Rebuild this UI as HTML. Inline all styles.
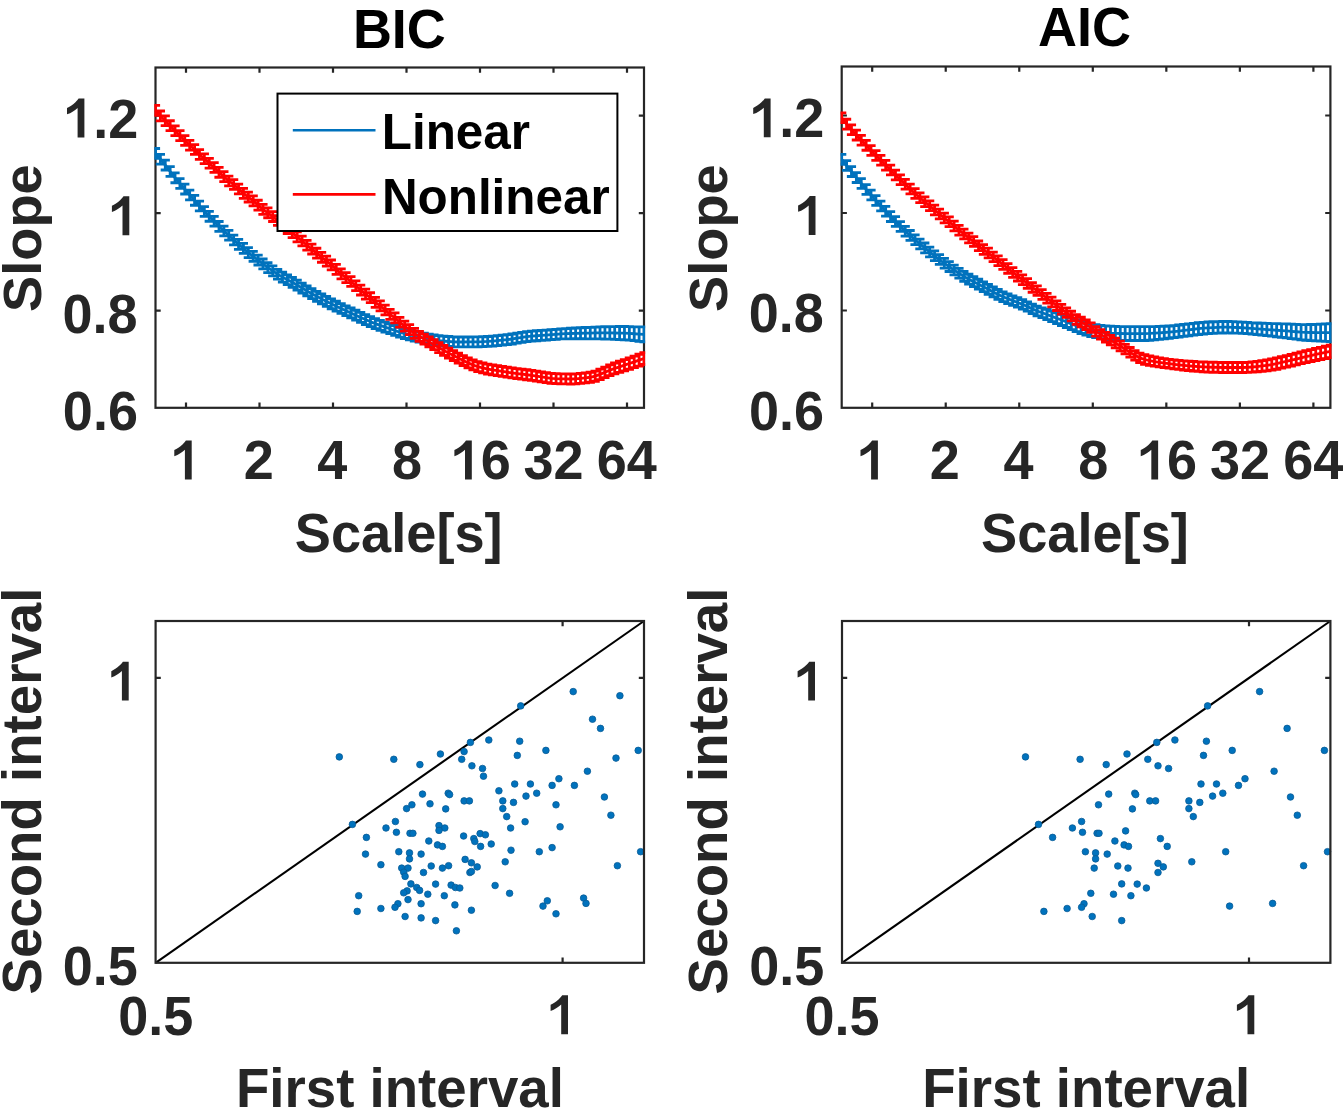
<!DOCTYPE html>
<html><head><meta charset="utf-8"><style>
html,body{margin:0;padding:0;background:#fff;}
svg{display:block;}
text{font-family:"Liberation Sans",sans-serif;font-weight:bold;}
</style></head><body>
<svg width="1344" height="1113" viewBox="0 0 1344 1113">
<rect width="1344" height="1113" fill="#fff"/>
<defs>
<clipPath id="cA"><rect x="154.3" y="66.3" width="490.9" height="342.7"/></clipPath>
<clipPath id="cB"><rect x="840.5" y="65.3" width="491.1" height="343.7"/></clipPath>
<clipPath id="cC"><rect x="154.4" y="619.8" width="490.79999999999995" height="344.19999999999993"/></clipPath>
<clipPath id="cD"><rect x="840.8" y="619.8" width="490.80000000000007" height="344.19999999999993"/></clipPath>
</defs>
<rect x="155.5" y="67.5" width="488.50" height="340.30" fill="none" stroke="#262626" stroke-width="2.2"/>
<path d="M186.00 407.8v-5.2M186.00 67.5v5.2M259.50 407.8v-5.2M259.50 67.5v5.2M333.00 407.8v-5.2M333.00 67.5v5.2M406.50 407.8v-5.2M406.50 67.5v5.2M480.00 407.8v-5.2M480.00 67.5v5.2M553.50 407.8v-5.2M553.50 67.5v5.2M627.00 407.8v-5.2M627.00 67.5v5.2M155.5 310.70h5.2M644 310.70h-5.2M155.5 213.20h5.2M644 213.20h-5.2M155.5 115.70h5.2M644 115.70h-5.2" stroke="#262626" stroke-width="2.2" fill="none"/>
<g clip-path="url(#cA)" stroke="#0072BD" stroke-width="2.8" fill="none"><path d="M155.50 153.42 L160.38 159.21 L165.27 165.12 L170.16 171.50 L175.04 177.83 L179.93 183.52 L184.81 189.10 L189.69 194.95 L194.58 200.32 L199.47 206.05 L204.35 211.47 L209.24 216.33 L214.12 221.23 L219.00 226.41 L223.89 231.05 L228.77 235.26 L233.66 240.04 L238.55 244.39 L243.43 248.37 L248.31 252.61 L253.20 256.31 L258.08 260.08 L262.97 263.95 L267.86 267.69 L272.74 270.90 L277.62 274.23 L282.51 277.13 L287.39 279.73 L292.28 282.33 L297.16 285.14 L302.05 288.04 L306.94 290.91 L311.82 293.66 L316.70 296.30 L321.59 298.88 L326.48 301.39 L331.36 303.82 L336.25 306.18 L341.13 308.48 L346.01 310.73 L350.90 312.95 L355.78 315.19 L360.67 317.41 L365.55 319.59 L370.44 321.68 L375.32 323.64 L380.21 325.43 L385.10 327.08 L389.98 328.71 L394.87 330.45 L399.75 332.20 L404.63 333.55 L409.52 334.83 L414.40 336.04 L419.29 337.18 L424.18 338.22 L429.06 339.15 L433.94 339.94 L438.83 340.59 L443.71 341.07 L448.60 341.48 L453.49 341.82 L458.37 341.99 L463.25 341.99 L468.14 341.96 L473.02 341.91 L477.91 341.83 L482.79 341.72 L487.68 341.47 L492.56 341.11 L497.45 340.66 L502.33 340.18 L507.22 339.67 L512.11 338.99 L516.99 338.21 L521.88 337.41 L526.76 336.70 L531.64 336.16 L536.53 335.74 L541.41 335.37 L546.30 335.03 L551.18 334.70 L556.07 334.34 L560.95 333.94 L565.84 333.69 L570.72 333.51 L575.61 333.37 L580.50 333.25 L585.38 333.15 L590.26 333.05 L595.15 332.96 L600.03 332.91 L604.92 332.90 L609.81 332.93 L614.69 332.98 L619.58 333.05 L624.46 333.17 L629.35 333.43 L634.23 333.73 L639.12 334.04 L644.00 334.34"/><path d="M155.50 148.52V158.33M150.90 148.52H160.10M150.90 158.33H160.10M160.38 154.31V164.12M155.78 154.31H164.98M155.78 164.12H164.98M165.27 160.21V170.02M160.67 160.21H169.87M160.67 170.02H169.87M170.16 166.59V176.40M165.56 166.59H174.75M165.56 176.40H174.75M175.04 172.92V182.73M170.44 172.92H179.64M170.44 182.73H179.64M179.93 178.61V188.43M175.33 178.61H184.53M175.33 188.43H184.53M184.81 184.19V194.01M180.21 184.19H189.41M180.21 194.01H189.41M189.69 190.04V199.86M185.09 190.04H194.29M185.09 199.86H194.29M194.58 195.41V205.23M189.98 195.41H199.18M189.98 205.23H199.18M199.47 201.14V210.96M194.87 201.14H204.06M194.87 210.96H204.06M204.35 206.56V216.38M199.75 206.56H208.95M199.75 216.38H208.95M209.24 211.42V221.25M204.64 211.42H213.84M204.64 221.25H213.84M214.12 216.31V226.14M209.52 216.31H218.72M209.52 226.14H218.72M219.00 221.49V231.32M214.41 221.49H223.60M214.41 231.32H223.60M223.89 226.13V235.97M219.29 226.13H228.49M219.29 235.97H228.49M228.77 230.34V240.18M224.17 230.34H233.37M224.17 240.18H233.37M233.66 235.12V244.96M229.06 235.12H238.26M229.06 244.96H238.26M238.55 239.47V249.31M233.95 239.47H243.15M233.95 249.31H243.15M243.43 243.44V253.29M238.83 243.44H248.03M238.83 253.29H248.03M248.31 247.69V257.54M243.72 247.69H252.91M243.72 257.54H252.91M253.20 251.38V261.23M248.60 251.38H257.80M248.60 261.23H257.80M258.08 255.15V265.01M253.48 255.15H262.69M253.48 265.01H262.69M262.97 259.02V268.88M258.37 259.02H267.57M258.37 268.88H267.57M267.86 262.76V272.62M263.25 262.76H272.46M263.25 272.62H272.46M272.74 265.97V275.83M268.14 265.97H277.34M268.14 275.83H277.34M277.62 269.30V279.17M273.02 269.30H282.23M273.02 279.17H282.23M282.51 272.20V282.06M277.91 272.20H287.11M277.91 282.06H287.11M287.39 274.79V284.66M282.79 274.79H292.00M282.79 284.66H292.00M292.28 277.40V287.27M287.68 277.40H296.88M287.68 287.27H296.88M297.16 280.21V290.08M292.56 280.21H301.76M292.56 290.08H301.76M302.05 283.10V292.98M297.45 283.10H306.65M297.45 292.98H306.65M306.94 285.98V295.85M302.33 285.98H311.54M302.33 295.85H311.54M311.82 288.72V298.60M307.22 288.72H316.42M307.22 298.60H316.42M316.70 291.36V301.24M312.10 291.36H321.31M312.10 301.24H321.31M321.59 293.94V303.82M316.99 293.94H326.19M316.99 303.82H326.19M326.48 296.44V306.33M321.88 296.44H331.08M321.88 306.33H331.08M331.36 298.88V308.77M326.76 298.88H335.96M326.76 308.77H335.96M336.25 301.24V311.13M331.64 301.24H340.85M331.64 311.13H340.85M341.13 303.54V313.43M336.53 303.54H345.73M336.53 313.43H345.73M346.01 305.78V315.68M341.41 305.78H350.62M341.41 315.68H350.62M350.90 308.01V317.90M346.30 308.01H355.50M346.30 317.90H355.50M355.78 310.24V320.14M351.18 310.24H360.38M351.18 320.14H360.38M360.67 312.46V322.36M356.07 312.46H365.27M356.07 322.36H365.27M365.55 314.64V324.54M360.95 314.64H370.15M360.95 324.54H370.15M370.44 316.72V326.63M365.84 316.72H375.04M365.84 326.63H375.04M375.32 318.69V328.60M370.72 318.69H379.93M370.72 328.60H379.93M380.21 320.47V330.39M375.61 320.47H384.81M375.61 330.39H384.81M385.10 322.12V332.04M380.50 322.12H389.70M380.50 332.04H389.70M389.98 323.75V333.67M385.38 323.75H394.58M385.38 333.67H394.58M394.87 325.49V335.41M390.26 325.49H399.47M390.26 335.41H399.47M399.75 327.24V337.16M395.15 327.24H404.35M395.15 337.16H404.35M404.63 328.59V338.51M400.03 328.59H409.24M400.03 338.51H409.24M409.52 329.86V339.79M404.92 329.86H414.12M404.92 339.79H414.12M414.40 331.08V341.01M409.80 331.08H419.00M409.80 341.01H419.00M419.29 332.22V342.15M414.69 332.22H423.89M414.69 342.15H423.89M424.18 333.26V343.19M419.57 333.26H428.78M419.57 343.19H428.78M429.06 334.18V344.12M424.46 334.18H433.66M424.46 344.12H433.66M433.94 334.98V344.91M429.34 334.98H438.55M429.34 344.91H438.55M438.83 335.62V345.56M434.23 335.62H443.43M434.23 345.56H443.43M443.71 336.10V346.04M439.11 336.10H448.31M439.11 346.04H448.31M448.60 336.51V346.45M444.00 336.51H453.20M444.00 346.45H453.20M453.49 336.84V346.79M448.88 336.84H458.09M448.88 346.79H458.09M458.37 337.02V346.97M453.77 337.02H462.97M453.77 346.97H462.97M463.25 337.02V346.97M458.65 337.02H467.86M458.65 346.97H467.86M468.14 336.98V346.94M463.54 336.98H472.74M463.54 346.94H472.74M473.02 336.93V346.88M468.42 336.93H477.62M468.42 346.88H477.62M477.91 336.85V346.81M473.31 336.85H482.51M473.31 346.81H482.51M482.79 336.74V346.71M478.19 336.74H487.39M478.19 346.71H487.39M487.68 336.49V346.46M483.08 336.49H492.28M483.08 346.46H492.28M492.56 336.12V346.09M487.96 336.12H497.17M487.96 346.09H497.17M497.45 335.68V345.65M492.85 335.68H502.05M492.85 345.65H502.05M502.33 335.19V345.16M497.73 335.19H506.94M497.73 345.16H506.94M507.22 334.68V344.65M502.62 334.68H511.82M502.62 344.65H511.82M512.11 334.01V343.98M507.50 334.01H516.71M507.50 343.98H516.71M516.99 333.22V343.20M512.39 333.22H521.59M512.39 343.20H521.59M521.88 332.42V342.40M517.27 332.42H526.48M517.27 342.40H526.48M526.76 331.71V341.69M522.16 331.71H531.36M522.16 341.69H531.36M531.64 331.17V341.15M527.04 331.17H536.25M527.04 341.15H536.25M536.53 330.74V340.73M531.93 330.74H541.13M531.93 340.73H541.13M541.41 330.37V340.37M536.81 330.37H546.01M536.81 340.37H546.01M546.30 330.03V340.03M541.70 330.03H550.90M541.70 340.03H550.90M551.18 329.70V339.69M546.58 329.70H555.78M546.58 339.69H555.78M556.07 329.34V339.34M551.47 329.34H560.67M551.47 339.34H560.67M560.95 328.92V338.97M556.35 328.92H565.55M556.35 338.97H565.55M565.84 328.54V338.84M561.24 328.54H570.44M561.24 338.84H570.44M570.72 328.24V338.78M566.12 328.24H575.32M566.12 338.78H575.32M575.61 327.98V338.76M571.01 327.98H580.21M571.01 338.76H580.21M580.50 327.74V338.77M575.89 327.74H585.10M575.89 338.77H585.10M585.38 327.52V338.78M580.78 327.52H589.98M580.78 338.78H589.98M590.26 327.29V338.80M585.66 327.29H594.87M585.66 338.80H594.87M595.15 327.08V338.84M590.55 327.08H599.75M590.55 338.84H599.75M600.03 326.91V338.91M595.43 326.91H604.63M595.43 338.91H604.63M604.92 326.76V339.05M600.32 326.76H609.52M600.32 339.05H609.52M609.81 326.64V339.22M605.21 326.64H614.41M605.21 339.22H614.41M614.69 326.54V339.42M610.09 326.54H619.29M610.09 339.42H619.29M619.58 326.47V339.64M614.98 326.47H624.18M614.98 339.64H624.18M624.46 326.49V339.84M619.86 326.49H629.06M619.86 339.84H629.06M629.35 326.68V340.19M624.75 326.68H633.95M624.75 340.19H633.95M634.23 326.79V340.66M629.63 326.79H638.83M629.63 340.66H638.83M639.12 326.81V341.28M634.51 326.81H643.72M634.51 341.28H643.72M644.00 326.80V341.88M639.40 326.80H648.60M639.40 341.88H648.60"/></g>
<g clip-path="url(#cA)" stroke="#FF0000" stroke-width="2.8" fill="none"><path d="M155.50 110.34 L160.38 115.91 L165.27 120.77 L170.16 125.66 L175.04 130.75 L179.93 135.63 L184.81 140.51 L189.69 145.26 L194.58 149.47 L199.47 154.45 L204.35 158.72 L209.24 163.21 L214.12 167.50 L219.00 172.36 L223.89 176.62 L228.77 180.96 L233.66 184.45 L238.55 189.00 L243.43 193.37 L248.31 197.07 L253.20 200.88 L258.08 205.16 L262.97 209.38 L267.86 212.84 L272.74 216.59 L277.62 220.47 L282.51 224.47 L287.39 228.55 L292.28 232.69 L297.16 236.86 L302.05 241.03 L306.94 245.25 L311.82 249.06 L316.70 253.17 L321.59 257.30 L326.48 261.09 L331.36 264.92 L336.25 269.34 L341.13 273.88 L346.01 277.67 L350.90 281.48 L355.78 285.76 L360.67 290.03 L365.55 294.12 L370.44 297.68 L375.32 302.36 L380.21 305.86 L385.10 309.98 L389.98 314.38 L394.87 317.90 L399.75 322.24 L404.63 326.10 L409.52 329.62 L414.40 333.37 L419.29 336.35 L424.18 339.06 L429.06 341.86 L433.94 344.72 L438.83 347.58 L443.71 350.36 L448.60 353.01 L453.49 355.51 L458.37 358.04 L463.25 360.54 L468.14 362.90 L473.02 365.00 L477.91 366.71 L482.79 367.99 L487.68 369.03 L492.56 369.93 L497.45 370.73 L502.33 371.48 L507.22 372.22 L512.11 372.90 L516.99 373.53 L521.88 374.14 L526.76 374.75 L531.64 375.40 L536.53 376.17 L541.41 376.98 L546.30 377.73 L551.18 378.32 L556.07 378.63 L560.95 378.80 L565.84 378.93 L570.72 379.00 L575.61 378.85 L580.50 378.36 L585.38 377.81 L590.26 377.25 L595.15 376.16 L600.03 374.40 L604.92 372.30 L609.81 370.22 L614.69 368.44 L619.58 366.81 L624.46 365.17 L629.35 363.54 L634.23 361.86 L639.12 360.15 L644.00 358.52"/><path d="M155.50 105.44V115.25M150.90 105.44H160.10M150.90 115.25H160.10M160.38 111.01V120.82M155.78 111.01H164.98M155.78 120.82H164.98M165.27 115.87V125.67M160.67 115.87H169.87M160.67 125.67H169.87M170.16 120.76V130.57M165.56 120.76H174.75M165.56 130.57H174.75M175.04 125.84V135.65M170.44 125.84H179.64M170.44 135.65H179.64M179.93 130.72V140.53M175.33 130.72H184.53M175.33 140.53H184.53M184.81 135.60V145.41M180.21 135.60H189.41M180.21 145.41H189.41M189.69 140.35V150.17M185.09 140.35H194.29M185.09 150.17H194.29M194.58 144.56V154.38M189.98 144.56H199.18M189.98 154.38H199.18M199.47 149.54V159.36M194.87 149.54H204.06M194.87 159.36H204.06M204.35 153.80V163.63M199.75 153.80H208.95M199.75 163.63H208.95M209.24 158.30V168.12M204.64 158.30H213.84M204.64 168.12H213.84M214.12 162.59V172.42M209.52 162.59H218.72M209.52 172.42H218.72M219.00 167.44V177.27M214.41 167.44H223.60M214.41 177.27H223.60M223.89 171.71V181.54M219.29 171.71H228.49M219.29 181.54H228.49M228.77 176.04V185.88M224.17 176.04H233.37M224.17 185.88H233.37M233.66 179.53V189.36M229.06 179.53H238.26M229.06 189.36H238.26M238.55 184.08V193.92M233.95 184.08H243.15M233.95 193.92H243.15M243.43 188.45V198.29M238.83 188.45H248.03M238.83 198.29H248.03M248.31 192.14V201.99M243.72 192.14H252.91M243.72 201.99H252.91M253.20 195.96V205.81M248.60 195.96H257.80M248.60 205.81H257.80M258.08 200.24V210.09M253.48 200.24H262.69M253.48 210.09H262.69M262.97 204.46V214.31M258.37 204.46H267.57M258.37 214.31H267.57M267.86 207.91V217.77M263.25 207.91H272.46M263.25 217.77H272.46M272.74 211.66V221.51M268.14 211.66H277.34M268.14 221.51H277.34M277.62 215.54V225.40M273.02 215.54H282.23M273.02 225.40H282.23M282.51 219.54V229.40M277.91 219.54H287.11M277.91 229.40H287.11M287.39 223.62V233.48M282.79 223.62H292.00M282.79 233.48H292.00M292.28 227.76V237.62M287.68 227.76H296.88M287.68 237.62H296.88M297.16 231.93V241.79M292.56 231.93H301.76M292.56 241.79H301.76M302.05 236.09V245.96M297.45 236.09H306.65M297.45 245.96H306.65M306.94 240.32V250.19M302.33 240.32H311.54M302.33 250.19H311.54M311.82 244.12V254.00M307.22 244.12H316.42M307.22 254.00H316.42M316.70 248.24V258.11M312.10 248.24H321.31M312.10 258.11H321.31M321.59 252.36V262.23M316.99 252.36H326.19M316.99 262.23H326.19M326.48 256.15V266.03M321.88 256.15H331.08M321.88 266.03H331.08M331.36 259.98V269.86M326.76 259.98H335.96M326.76 269.86H335.96M336.25 264.40V274.28M331.64 264.40H340.85M331.64 274.28H340.85M341.13 268.93V278.82M336.53 268.93H345.73M336.53 278.82H345.73M346.01 272.72V282.61M341.41 272.72H350.62M341.41 282.61H350.62M350.90 276.54V286.43M346.30 276.54H355.50M346.30 286.43H355.50M355.78 280.82V290.71M351.18 280.82H360.38M351.18 290.71H360.38M360.67 285.09V294.98M356.07 285.09H365.27M356.07 294.98H365.27M365.55 289.17V299.07M360.95 289.17H370.15M360.95 299.07H370.15M370.44 292.73V302.63M365.84 292.73H375.04M365.84 302.63H375.04M375.32 297.41V307.31M370.72 297.41H379.93M370.72 307.31H379.93M380.21 300.91V310.82M375.61 300.91H384.81M375.61 310.82H384.81M385.10 305.03V314.94M380.50 305.03H389.70M380.50 314.94H389.70M389.98 309.42V319.33M385.38 309.42H394.58M385.38 319.33H394.58M394.87 312.94V322.85M390.26 312.94H399.47M390.26 322.85H399.47M399.75 317.29V327.20M395.15 317.29H404.35M395.15 327.20H404.35M404.63 321.14V331.06M400.03 321.14H409.24M400.03 331.06H409.24M409.52 324.66V334.58M404.92 324.66H414.12M404.92 334.58H414.12M414.40 328.41V338.34M409.80 328.41H419.00M409.80 338.34H419.00M419.29 331.39V341.31M414.69 331.39H423.89M414.69 341.31H423.89M424.18 334.09V344.02M419.57 334.09H428.78M419.57 344.02H428.78M429.06 336.90V346.82M424.46 336.90H433.66M424.46 346.82H433.66M433.94 339.76V349.69M429.34 339.76H438.55M429.34 349.69H438.55M438.83 342.61V352.54M434.23 342.61H443.43M434.23 352.54H443.43M443.71 345.39V355.33M439.11 345.39H448.31M439.11 355.33H448.31M448.60 348.04V357.98M444.00 348.04H453.20M444.00 357.98H453.20M453.49 350.54V360.48M448.88 350.54H458.09M448.88 360.48H458.09M458.37 353.07V363.01M453.77 353.07H462.97M453.77 363.01H462.97M463.25 355.57V365.52M458.65 355.57H467.86M458.65 365.52H467.86M468.14 357.93V367.88M463.54 357.93H472.74M463.54 367.88H472.74M473.02 360.02V369.97M468.42 360.02H477.62M468.42 369.97H477.62M477.91 361.74V371.69M473.31 361.74H482.51M473.31 371.69H482.51M482.79 363.01V372.96M478.19 363.01H487.39M478.19 372.96H487.39M487.68 364.06V374.01M483.08 364.06H492.28M483.08 374.01H492.28M492.56 364.95V374.91M487.96 364.95H497.17M487.96 374.91H497.17M497.45 365.75V375.71M492.85 365.75H502.05M492.85 375.71H502.05M502.33 366.50V376.46M497.73 366.50H506.94M497.73 376.46H506.94M507.22 367.24V377.20M502.62 367.24H511.82M502.62 377.20H511.82M512.11 367.91V377.88M507.50 367.91H516.71M507.50 377.88H516.71M516.99 368.55V378.51M512.39 368.55H521.59M512.39 378.51H521.59M521.88 369.15V379.12M517.27 369.15H526.48M517.27 379.12H526.48M526.76 369.77V379.74M522.16 369.77H531.36M522.16 379.74H531.36M531.64 370.41V380.39M527.04 370.41H536.25M527.04 380.39H536.25M536.53 371.18V381.15M531.93 371.18H541.13M531.93 381.15H541.13M541.41 371.99V381.97M536.81 371.99H546.01M536.81 381.97H546.01M546.30 372.74V382.72M541.70 372.74H550.90M541.70 382.72H550.90M551.18 373.33V383.31M546.58 373.33H555.78M546.58 383.31H555.78M556.07 373.64V383.62M551.47 373.64H560.67M551.47 383.62H560.67M560.95 373.81V383.80M556.35 373.81H565.55M556.35 383.80H565.55M565.84 373.94V383.93M561.24 373.94H570.44M561.24 383.93H570.44M570.72 374.00V383.99M566.12 374.00H575.32M566.12 383.99H575.32M575.61 373.86V383.85M571.01 373.86H580.21M571.01 383.85H580.21M580.50 373.36V383.35M575.89 373.36H585.10M575.89 383.35H585.10M585.38 372.81V382.81M580.78 372.81H589.98M580.78 382.81H589.98M590.26 372.24V382.25M585.66 372.24H594.87M585.66 382.25H594.87M595.15 371.07V381.25M590.55 371.07H599.75M590.55 381.25H599.75M600.03 369.22V379.58M595.43 369.22H604.63M595.43 379.58H604.63M604.92 367.03V377.58M600.32 367.03H609.52M600.32 377.58H609.52M609.81 364.86V375.58M605.21 364.86H614.41M605.21 375.58H614.41M614.69 362.99V373.89M610.09 362.99H619.29M610.09 373.89H619.29M619.58 361.27V372.35M614.98 361.27H624.18M614.98 372.35H624.18M624.46 359.55V370.80M619.86 359.55H629.06M619.86 370.80H629.06M629.35 357.82V369.25M624.75 357.82H633.95M624.75 369.25H633.95M634.23 356.06V367.67M629.63 356.06H638.83M629.63 367.67H638.83M639.12 354.25V366.04M634.51 354.25H643.72M634.51 366.04H643.72M644.00 352.54V364.50M639.40 352.54H648.60M639.40 364.50H648.60"/></g>
<text x="352.89" y="0" transform="translate(0 47.80) scale(1 1.045)" font-size="54.0" fill="#000">BIC</text>
<text x="62.88" y="0" transform="translate(0 430.00) scale(1 1.02)" font-size="54.0" fill="#262626">0.6</text>
<text x="62.59" y="0" transform="translate(0 332.50) scale(1 1.02)" font-size="54.0" fill="#262626">0.8</text>
<path transform="translate(111.90 235.20)" fill="#262626" d="M10.6 0V-29.6C8.2 -27.2 4.2 -24.6 0 -23.2V-29.4C2.6 -30.5 5.6 -32.6 8.2 -35C9.8 -36.5 11 -37.8 11.6 -38.9H17.4V0Z"/>
<path transform="translate(67.00 137.50)" fill="#262626" d="M10.6 0V-29.6C8.2 -27.2 4.2 -24.6 0 -23.2V-29.4C2.6 -30.5 5.6 -32.6 8.2 -35C9.8 -36.5 11 -37.8 11.6 -38.9H17.4V0Z"/>
<text x="93.13" y="0" transform="translate(0 137.50) scale(1 1.02)" font-size="54.0" fill="#262626">.2</text>
<path transform="translate(174.30 479.40)" fill="#262626" d="M10.6 0V-29.6C8.2 -27.2 4.2 -24.6 0 -23.2V-29.4C2.6 -30.5 5.6 -32.6 8.2 -35C9.8 -36.5 11 -37.8 11.6 -38.9H17.4V0Z"/>
<text x="243.63" y="0" transform="translate(0 479.40) scale(1 1.02)" font-size="54.0" fill="#262626">2</text>
<text x="317.22" y="0" transform="translate(0 479.40) scale(1 1.02)" font-size="54.0" fill="#262626">4</text>
<text x="391.96" y="0" transform="translate(0 479.40) scale(1 1.02)" font-size="54.0" fill="#262626">8</text>
<path transform="translate(454.40 479.40)" fill="#262626" d="M10.6 0V-29.6C8.2 -27.2 4.2 -24.6 0 -23.2V-29.4C2.6 -30.5 5.6 -32.6 8.2 -35C9.8 -36.5 11 -37.8 11.6 -38.9H17.4V0Z"/>
<text x="480.72" y="0" transform="translate(0 479.40) scale(1 1.02)" font-size="54.0" fill="#262626">6</text>
<text x="523.53" y="0" transform="translate(0 479.40) scale(1 1.02)" font-size="54.0" fill="#262626">32</text>
<text x="596.82" y="0" transform="translate(0 479.40) scale(1 1.02)" font-size="54.0" fill="#262626">64</text>
<text x="294.80" y="0" transform="translate(0 551.80) scale(1 1.02)" font-size="54.2" fill="#262626">Scale[s]</text>
<text x="0" y="0" transform="translate(41.20 311.91) rotate(-90) scale(1 1.0)" font-size="54.25" fill="#262626">Slope</text>
<rect x="277.5" y="93.6" width="339.9" height="137.4" fill="#fff" stroke="#000" stroke-width="2"/>
<path d="M292.8 130.3H375.5" stroke="#0072BD" stroke-width="2.6"/><path d="M292.8 194.4H375.5" stroke="#FF0000" stroke-width="2.6"/>
<text x="381.80" y="0" transform="translate(0 149.00) scale(1 1.02)" font-size="49.4" fill="#000">Linear</text>
<text x="381.90" y="0" transform="translate(0 214.10) scale(1 1.02)" font-size="49.4" fill="#000">Nonlinear</text>
<rect x="841.7" y="66.5" width="488.70" height="341.30" fill="none" stroke="#262626" stroke-width="2.2"/>
<path d="M872.20 407.8v-5.2M872.20 66.5v5.2M945.73 407.8v-5.2M945.73 66.5v5.2M1019.27 407.8v-5.2M1019.27 66.5v5.2M1092.80 407.8v-5.2M1092.80 66.5v5.2M1166.33 407.8v-5.2M1166.33 66.5v5.2M1239.87 407.8v-5.2M1239.87 66.5v5.2M1313.40 407.8v-5.2M1313.40 66.5v5.2M841.7 310.50h5.2M1330.4 310.50h-5.2M841.7 213.00h5.2M1330.4 213.00h-5.2M841.7 115.50h5.2M1330.4 115.50h-5.2" stroke="#262626" stroke-width="2.2" fill="none"/>
<g clip-path="url(#cB)" stroke="#0072BD" stroke-width="2.8" fill="none"><path d="M841.70 159.36 L846.59 165.56 L851.47 171.61 L856.36 177.60 L861.25 183.47 L866.13 189.44 L871.02 195.00 L875.91 200.56 L880.80 206.01 L885.68 211.29 L890.57 216.59 L895.46 221.56 L900.34 226.45 L905.23 231.29 L910.12 235.38 L915.01 239.78 L919.89 243.96 L924.78 247.91 L929.67 251.93 L934.55 255.78 L939.44 259.56 L944.33 263.26 L949.21 266.62 L954.10 270.07 L958.99 273.29 L963.88 276.35 L968.76 279.15 L973.65 281.63 L978.54 284.17 L983.42 286.74 L988.31 289.34 L993.20 291.92 L998.08 294.39 L1002.97 296.71 L1007.86 298.79 L1012.75 300.68 L1017.63 302.49 L1022.52 304.36 L1027.41 306.41 L1032.29 308.87 L1037.18 311.04 L1042.07 312.77 L1046.95 314.55 L1051.84 316.38 L1056.73 318.19 L1061.62 319.98 L1066.50 321.87 L1071.39 323.86 L1076.28 325.67 L1081.16 327.44 L1086.05 329.01 L1090.94 330.20 L1095.82 331.19 L1100.71 332.06 L1105.60 332.73 L1110.49 333.11 L1115.37 333.34 L1120.26 333.50 L1125.15 333.59 L1130.03 333.60 L1134.92 333.60 L1139.81 333.60 L1144.69 333.60 L1149.58 333.47 L1154.47 333.22 L1159.36 332.88 L1164.24 332.51 L1169.13 332.12 L1174.02 331.63 L1178.90 331.05 L1183.79 330.45 L1188.68 329.89 L1193.56 329.26 L1198.45 328.66 L1203.34 328.17 L1208.23 327.85 L1213.11 327.57 L1218.00 327.35 L1222.89 327.22 L1227.77 327.22 L1232.66 327.33 L1237.55 327.52 L1242.43 327.76 L1247.32 328.07 L1252.21 328.47 L1257.10 328.84 L1261.98 329.19 L1266.87 329.55 L1271.76 329.90 L1276.64 330.25 L1281.53 330.59 L1286.42 330.94 L1291.30 331.30 L1296.19 331.74 L1301.08 332.16 L1305.97 332.45 L1310.85 332.52 L1315.74 332.56 L1320.63 332.58 L1325.51 332.60 L1330.40 332.60"/><path d="M841.70 154.46V164.26M837.10 154.46H846.30M837.10 164.26H846.30M846.59 160.66V170.46M841.99 160.66H851.19M841.99 170.46H851.19M851.47 166.71V176.51M846.87 166.71H856.07M846.87 176.51H856.07M856.36 172.70V182.50M851.76 172.70H860.96M851.76 182.50H860.96M861.25 178.57V188.37M856.65 178.57H865.85M856.65 188.37H865.85M866.13 184.54V194.34M861.53 184.54H870.74M861.53 194.34H870.74M871.02 190.10V199.90M866.42 190.10H875.62M866.42 199.90H875.62M875.91 195.66V205.46M871.31 195.66H880.51M871.31 205.46H880.51M880.80 201.11V210.91M876.20 201.11H885.40M876.20 210.91H885.40M885.68 206.39V216.19M881.08 206.39H890.28M881.08 216.19H890.28M890.57 211.69V221.49M885.97 211.69H895.17M885.97 221.49H895.17M895.46 216.66V226.46M890.86 216.66H900.06M890.86 226.46H900.06M900.34 221.55V231.35M895.74 221.55H904.94M895.74 231.35H904.94M905.23 226.39V236.19M900.63 226.39H909.83M900.63 236.19H909.83M910.12 230.48V240.28M905.52 230.48H914.72M905.52 240.28H914.72M915.01 234.88V244.68M910.41 234.88H919.61M910.41 244.68H919.61M919.89 239.06V248.86M915.29 239.06H924.49M915.29 248.86H924.49M924.78 243.01V252.81M920.18 243.01H929.38M920.18 252.81H929.38M929.67 247.03V256.83M925.07 247.03H934.27M925.07 256.83H934.27M934.55 250.88V260.68M929.95 250.88H939.15M929.95 260.68H939.15M939.44 254.66V264.46M934.84 254.66H944.04M934.84 264.46H944.04M944.33 258.36V268.16M939.73 258.36H948.93M939.73 268.16H948.93M949.21 261.72V271.52M944.61 261.72H953.81M944.61 271.52H953.81M954.10 265.17V274.97M949.50 265.17H958.70M949.50 274.97H958.70M958.99 268.39V278.19M954.39 268.39H963.59M954.39 278.19H963.59M963.88 271.45V281.25M959.27 271.45H968.48M959.27 281.25H968.48M968.76 274.25V284.05M964.16 274.25H973.36M964.16 284.05H973.36M973.65 276.73V286.53M969.05 276.73H978.25M969.05 286.53H978.25M978.54 279.27V289.07M973.94 279.27H983.14M973.94 289.07H983.14M983.42 281.84V291.64M978.82 281.84H988.02M978.82 291.64H988.02M988.31 284.44V294.24M983.71 284.44H992.91M983.71 294.24H992.91M993.20 287.02V296.82M988.60 287.02H997.80M988.60 296.82H997.80M998.08 289.49V299.29M993.48 289.49H1002.68M993.48 299.29H1002.68M1002.97 291.84V301.58M998.37 291.84H1007.57M998.37 301.58H1007.57M1007.86 293.97V303.61M1003.26 293.97H1012.46M1003.26 303.61H1012.46M1012.75 295.90V305.45M1008.15 295.90H1017.35M1008.15 305.45H1017.35M1017.63 297.77V307.22M1013.03 297.77H1022.23M1013.03 307.22H1022.23M1022.52 299.69V309.04M1017.92 299.69H1027.12M1017.92 309.04H1027.12M1027.41 301.78V311.03M1022.81 301.78H1032.01M1022.81 311.03H1032.01M1032.29 304.20V313.53M1027.69 304.20H1036.89M1027.69 313.53H1036.89M1037.18 306.23V315.84M1032.58 306.23H1041.78M1032.58 315.84H1041.78M1042.07 307.82V317.71M1037.47 307.82H1046.67M1037.47 317.71H1046.67M1046.95 309.46V319.64M1042.35 309.46H1051.55M1042.35 319.64H1051.55M1051.84 311.16V321.61M1047.24 311.16H1056.44M1047.24 321.61H1056.44M1056.73 312.82V323.56M1052.13 312.82H1061.33M1052.13 323.56H1061.33M1061.62 314.47V325.49M1057.02 314.47H1066.21M1057.02 325.49H1066.21M1066.50 316.22V327.52M1061.90 316.22H1071.10M1061.90 327.52H1071.10M1071.39 318.07V329.65M1066.79 318.07H1075.99M1066.79 329.65H1075.99M1076.28 319.74V331.61M1071.68 319.74H1080.88M1071.68 331.61H1080.88M1081.16 321.37V333.51M1076.56 321.37H1085.76M1076.56 333.51H1085.76M1086.05 322.79V335.22M1081.45 322.79H1090.65M1081.45 335.22H1090.65M1090.94 323.84V336.55M1086.34 323.84H1095.54M1086.34 336.55H1095.54M1095.82 324.69V337.68M1091.22 324.69H1100.42M1091.22 337.68H1100.42M1100.71 325.42V338.69M1096.11 325.42H1105.31M1096.11 338.69H1105.31M1105.60 325.95V339.50M1101.00 325.95H1110.20M1101.00 339.50H1110.20M1110.49 326.21V340.01M1105.89 326.21H1115.09M1105.89 340.01H1115.09M1115.37 326.44V340.24M1110.77 326.44H1119.97M1110.77 340.24H1119.97M1120.26 326.60V340.40M1115.66 326.60H1124.86M1115.66 340.40H1124.86M1125.15 326.69V340.49M1120.55 326.69H1129.75M1120.55 340.49H1129.75M1130.03 326.70V340.50M1125.43 326.70H1134.63M1125.43 340.50H1134.63M1134.92 326.70V340.50M1130.32 326.70H1139.52M1130.32 340.50H1139.52M1139.81 326.70V340.50M1135.21 326.70H1144.41M1135.21 340.50H1144.41M1144.69 326.70V340.50M1140.09 326.70H1149.29M1140.09 340.50H1149.29M1149.58 326.72V340.23M1144.98 326.72H1154.18M1144.98 340.23H1154.18M1154.47 326.62V339.82M1149.87 326.62H1159.07M1149.87 339.82H1159.07M1159.36 326.44V339.33M1154.76 326.44H1163.95M1154.76 339.33H1163.95M1164.24 326.23V338.79M1159.64 326.23H1168.84M1159.64 338.79H1168.84M1169.13 326.00V338.25M1164.53 326.00H1173.73M1164.53 338.25H1173.73M1174.02 325.55V337.70M1169.42 325.55H1178.62M1169.42 337.70H1178.62M1178.90 325.00V337.09M1174.30 325.00H1183.50M1174.30 337.09H1183.50M1183.79 324.44V336.47M1179.19 324.44H1188.39M1179.19 336.47H1188.39M1188.68 323.90V335.87M1184.08 323.90H1193.28M1184.08 335.87H1193.28M1193.56 323.31V335.22M1188.96 323.31H1198.16M1188.96 335.22H1198.16M1198.45 322.74V334.58M1193.85 322.74H1203.05M1193.85 334.58H1203.05M1203.34 322.28V334.06M1198.74 322.28H1207.94M1198.74 334.06H1207.94M1208.23 321.99V333.71M1203.63 321.99H1212.83M1203.63 333.71H1212.83M1213.11 321.74V333.40M1208.51 321.74H1217.71M1208.51 333.40H1217.71M1218.00 321.55V333.15M1213.40 321.55H1222.60M1213.40 333.15H1222.60M1222.89 321.45V332.99M1218.29 321.45H1227.49M1218.29 332.99H1227.49M1227.77 321.48V332.95M1223.17 321.48H1232.37M1223.17 332.95H1232.37M1232.66 321.62V333.04M1228.06 321.62H1237.26M1228.06 333.04H1237.26M1237.55 321.84V333.20M1232.95 321.84H1242.15M1232.95 333.20H1242.15M1242.43 322.12V333.41M1237.83 322.12H1247.03M1237.83 333.41H1247.03M1247.32 322.45V333.69M1242.72 322.45H1251.92M1242.72 333.69H1251.92M1252.21 322.80V334.14M1247.61 322.80H1256.81M1247.61 334.14H1256.81M1257.10 323.02V334.65M1252.50 323.02H1261.69M1252.50 334.65H1261.69M1261.98 323.23V335.15M1257.38 323.23H1266.58M1257.38 335.15H1266.58M1266.87 323.44V335.65M1262.27 323.44H1271.47M1262.27 335.65H1271.47M1271.76 323.61V336.19M1267.16 323.61H1276.36M1267.16 336.19H1276.36M1276.64 323.71V336.78M1272.04 323.71H1281.24M1272.04 336.78H1281.24M1281.53 323.82V337.37M1276.93 323.82H1286.13M1276.93 337.37H1286.13M1286.42 323.92V337.96M1281.82 323.92H1291.02M1281.82 337.96H1291.02M1291.30 324.05V338.55M1286.70 324.05H1295.90M1286.70 338.55H1295.90M1296.19 324.30V339.18M1291.59 324.30H1300.79M1291.59 339.18H1300.79M1301.08 324.53V339.79M1296.48 324.53H1305.68M1296.48 339.79H1305.68M1305.97 324.62V340.27M1301.37 324.62H1310.57M1301.37 340.27H1310.57M1310.85 324.49V340.56M1306.25 324.49H1315.45M1306.25 340.56H1315.45M1315.74 324.29V340.83M1311.14 324.29H1320.34M1311.14 340.83H1320.34M1320.63 324.08V341.09M1316.03 324.08H1325.23M1316.03 341.09H1325.23M1325.51 323.86V341.34M1320.91 323.86H1330.11M1320.91 341.34H1330.11M1330.40 323.63V341.57M1325.80 323.63H1335.00M1325.80 341.57H1335.00"/></g>
<g clip-path="url(#cB)" stroke="#FF0000" stroke-width="2.8" fill="none"><path d="M841.70 117.74 L846.59 124.14 L851.47 129.75 L856.36 135.09 L861.25 140.18 L866.13 145.36 L871.02 150.54 L875.91 155.51 L880.80 160.30 L885.68 165.28 L890.57 170.07 L895.46 174.96 L900.34 179.82 L905.23 184.31 L910.12 188.99 L915.01 193.46 L919.89 197.72 L924.78 201.81 L929.67 205.74 L934.55 210.04 L939.44 213.98 L944.33 218.08 L949.21 221.79 L954.10 225.99 L958.99 230.23 L963.88 233.94 L968.76 237.95 L973.65 241.50 L978.54 245.84 L983.42 249.54 L988.31 253.06 L993.20 256.88 L998.08 260.69 L1002.97 264.51 L1007.86 268.43 L1012.75 272.45 L1017.63 276.15 L1022.52 279.69 L1027.41 283.40 L1032.29 287.41 L1037.18 290.63 L1042.07 294.45 L1046.95 298.27 L1051.84 301.98 L1056.73 305.69 L1061.62 309.20 L1066.50 312.64 L1071.39 316.06 L1076.28 319.52 L1081.16 322.08 L1086.05 324.84 L1090.94 327.59 L1095.82 331.38 L1100.71 334.40 L1105.60 337.20 L1110.49 340.13 L1115.37 343.02 L1120.26 346.02 L1125.15 349.09 L1130.03 352.31 L1134.92 355.35 L1139.81 357.85 L1144.69 359.49 L1149.58 360.63 L1154.47 361.55 L1159.36 362.32 L1164.24 363.02 L1169.13 363.69 L1174.02 364.32 L1178.90 364.89 L1183.79 365.40 L1188.68 365.84 L1193.56 366.25 L1198.45 366.61 L1203.34 366.90 L1208.23 367.09 L1213.11 367.27 L1218.00 367.41 L1222.89 367.49 L1227.77 367.50 L1232.66 367.50 L1237.55 367.50 L1242.43 367.50 L1247.32 367.41 L1252.21 367.02 L1257.10 366.55 L1261.98 365.98 L1266.87 365.31 L1271.76 364.55 L1276.64 363.57 L1281.53 362.47 L1286.42 361.32 L1291.30 360.20 L1296.19 359.02 L1301.08 357.81 L1305.97 356.64 L1310.85 355.53 L1315.74 354.46 L1320.63 353.43 L1325.51 352.41 L1330.40 351.42"/><path d="M841.70 112.85V122.64M837.10 112.85H846.30M837.10 122.64H846.30M846.59 119.24V129.04M841.99 119.24H851.19M841.99 129.04H851.19M851.47 124.85V134.64M846.87 124.85H856.07M846.87 134.64H856.07M856.36 130.20V139.99M851.76 130.20H860.96M851.76 139.99H860.96M861.25 135.28V145.07M856.65 135.28H865.85M856.65 145.07H865.85M866.13 140.46V150.25M861.53 140.46H870.74M861.53 150.25H870.74M871.02 145.65V155.43M866.42 145.65H875.62M866.42 155.43H875.62M875.91 150.62V160.40M871.31 150.62H880.51M871.31 160.40H880.51M880.80 155.41V165.18M876.20 155.41H885.40M876.20 165.18H885.40M885.68 160.40V170.17M881.08 160.40H890.28M881.08 170.17H890.28M890.57 165.18V174.95M885.97 165.18H895.17M885.97 174.95H895.17M895.46 170.08V179.84M890.86 170.08H900.06M890.86 179.84H900.06M900.34 174.94V184.70M895.74 174.94H904.94M895.74 184.70H904.94M905.23 179.43V189.19M900.63 179.43H909.83M900.63 189.19H909.83M910.12 184.11V193.86M905.52 184.11H914.72M905.52 193.86H914.72M915.01 188.59V198.34M910.41 188.59H919.61M910.41 198.34H919.61M919.89 192.85V202.59M915.29 192.85H924.49M915.29 202.59H924.49M924.78 196.94V206.68M920.18 196.94H929.38M920.18 206.68H929.38M929.67 200.87V210.61M925.07 200.87H934.27M925.07 210.61H934.27M934.55 205.18V214.91M929.95 205.18H939.15M929.95 214.91H939.15M939.44 209.11V218.85M934.84 209.11H944.04M934.84 218.85H944.04M944.33 213.21V222.95M939.73 213.21H948.93M939.73 222.95H948.93M949.21 216.93V226.66M944.61 216.93H953.81M944.61 226.66H953.81M954.10 221.13V230.85M949.50 221.13H958.70M949.50 230.85H958.70M958.99 225.37V235.09M954.39 225.37H963.59M954.39 235.09H963.59M963.88 229.08V238.80M959.27 229.08H968.48M959.27 238.80H968.48M968.76 233.09V242.81M964.16 233.09H973.36M964.16 242.81H973.36M973.65 236.65V246.36M969.05 236.65H978.25M969.05 246.36H978.25M978.54 240.98V250.69M973.94 240.98H983.14M973.94 250.69H983.14M983.42 244.69V254.39M978.82 244.69H988.02M978.82 254.39H988.02M988.31 248.21V257.91M983.71 248.21H992.91M983.71 257.91H992.91M993.20 252.03V261.72M988.60 252.03H997.80M988.60 261.72H997.80M998.08 255.84V265.53M993.48 255.84H1002.68M993.48 265.53H1002.68M1002.97 259.67V269.36M998.37 259.67H1007.57M998.37 269.36H1007.57M1007.86 263.58V273.27M1003.26 263.58H1012.46M1003.26 273.27H1012.46M1012.75 267.61V277.29M1008.15 267.61H1017.35M1008.15 277.29H1017.35M1017.63 271.30V280.99M1013.03 271.30H1022.23M1013.03 280.99H1022.23M1022.52 274.85V284.53M1017.92 274.85H1027.12M1017.92 284.53H1027.12M1027.41 278.57V288.24M1022.81 278.57H1032.01M1022.81 288.24H1032.01M1032.29 282.58V292.25M1027.69 282.58H1036.89M1027.69 292.25H1036.89M1037.18 285.80V295.46M1032.58 285.80H1041.78M1032.58 295.46H1041.78M1042.07 289.62V299.29M1037.47 289.62H1046.67M1037.47 299.29H1046.67M1046.95 293.44V303.10M1042.35 293.44H1051.55M1042.35 303.10H1051.55M1051.84 297.15V306.81M1047.24 297.15H1056.44M1047.24 306.81H1056.44M1056.73 300.87V310.52M1052.13 300.87H1061.33M1052.13 310.52H1061.33M1061.62 304.37V314.02M1057.02 304.37H1066.21M1057.02 314.02H1066.21M1066.50 307.82V317.47M1061.90 307.82H1071.10M1061.90 317.47H1071.10M1071.39 311.24V320.89M1066.79 311.24H1075.99M1066.79 320.89H1075.99M1076.28 314.70V324.35M1071.68 314.70H1080.88M1071.68 324.35H1080.88M1081.16 317.26V326.90M1076.56 317.26H1085.76M1076.56 326.90H1085.76M1086.05 320.02V329.66M1081.45 320.02H1090.65M1081.45 329.66H1090.65M1090.94 322.78V332.41M1086.34 322.78H1095.54M1086.34 332.41H1095.54M1095.82 326.56V336.19M1091.22 326.56H1100.42M1091.22 336.19H1100.42M1100.71 329.59V339.21M1096.11 329.59H1105.31M1096.11 339.21H1105.31M1105.60 332.39V342.01M1101.00 332.39H1110.20M1101.00 342.01H1110.20M1110.49 335.32V344.94M1105.89 335.32H1115.09M1105.89 344.94H1115.09M1115.37 338.21V347.83M1110.77 338.21H1119.97M1110.77 347.83H1119.97M1120.26 341.21V350.82M1115.66 341.21H1124.86M1115.66 350.82H1124.86M1125.15 344.28V353.89M1120.55 344.28H1129.75M1120.55 353.89H1129.75M1130.03 347.51V357.12M1125.43 347.51H1134.63M1125.43 357.12H1134.63M1134.92 350.55V360.15M1130.32 350.55H1139.52M1130.32 360.15H1139.52M1139.81 353.05V362.65M1135.21 353.05H1144.41M1135.21 362.65H1144.41M1144.69 354.75V364.23M1140.09 354.75H1149.29M1140.09 364.23H1149.29M1149.58 355.96V365.30M1144.98 355.96H1154.18M1144.98 365.30H1154.18M1154.47 356.94V366.16M1149.87 356.94H1159.07M1149.87 366.16H1159.07M1159.36 357.78V366.86M1154.76 357.78H1163.95M1154.76 366.86H1163.95M1164.24 358.54V367.49M1159.64 358.54H1168.84M1159.64 367.49H1168.84M1169.13 359.28V368.10M1164.53 359.28H1173.73M1164.53 368.10H1173.73M1174.02 359.86V368.78M1169.42 359.86H1178.62M1169.42 368.78H1178.62M1178.90 360.36V369.43M1174.30 360.36H1183.50M1174.30 369.43H1183.50M1183.79 360.79V370.00M1179.19 360.79H1188.39M1179.19 370.00H1188.39M1188.68 361.15V370.52M1184.08 361.15H1193.28M1184.08 370.52H1193.28M1193.56 361.49V371.00M1188.96 361.49H1198.16M1188.96 371.00H1198.16M1198.45 361.78V371.44M1193.85 361.78H1203.05M1193.85 371.44H1203.05M1203.34 362.00V371.80M1198.74 362.00H1207.94M1198.74 371.80H1207.94M1208.23 362.12V372.07M1203.63 362.12H1212.83M1203.63 372.07H1212.83M1213.11 362.27V372.27M1208.51 362.27H1217.71M1208.51 372.27H1217.71M1218.00 362.41V372.41M1213.40 362.41H1222.60M1213.40 372.41H1222.60M1222.89 362.49V372.49M1218.29 362.49H1227.49M1218.29 372.49H1227.49M1227.77 362.50V372.50M1223.17 362.50H1232.37M1223.17 372.50H1232.37M1232.66 362.50V372.50M1228.06 362.50H1237.26M1228.06 372.50H1237.26M1237.55 362.50V372.50M1232.95 362.50H1242.15M1232.95 372.50H1242.15M1242.43 362.50V372.50M1237.83 362.50H1247.03M1237.83 372.50H1247.03M1247.32 362.41V372.41M1242.72 362.41H1251.92M1242.72 372.41H1251.92M1252.21 361.96V372.09M1247.61 361.96H1256.81M1247.61 372.09H1256.81M1257.10 361.34V371.76M1252.50 361.34H1261.69M1252.50 371.76H1261.69M1261.98 360.62V371.33M1257.38 360.62H1266.58M1257.38 371.33H1266.58M1266.87 359.81V370.82M1262.27 359.81H1271.47M1262.27 370.82H1271.47M1271.76 358.93V370.16M1267.16 358.93H1276.36M1267.16 370.16H1276.36M1276.64 357.91V369.24M1272.04 357.91H1281.24M1272.04 369.24H1281.24M1281.53 356.76V368.18M1276.93 356.76H1286.13M1276.93 368.18H1286.13M1286.42 355.56V367.09M1281.82 355.56H1291.02M1281.82 367.09H1291.02M1291.30 354.39V366.01M1286.70 354.39H1295.90M1286.70 366.01H1295.90M1296.19 353.16V364.88M1291.59 353.16H1300.79M1291.59 364.88H1300.79M1301.08 351.91V363.72M1296.48 351.91H1305.68M1296.48 363.72H1305.68M1305.97 350.68V362.59M1301.37 350.68H1310.57M1301.37 362.59H1310.57M1310.85 349.53V361.53M1306.25 349.53H1315.45M1306.25 361.53H1315.45M1315.74 348.41V360.51M1311.14 348.41H1320.34M1311.14 360.51H1320.34M1320.63 347.33V359.52M1316.03 347.33H1325.23M1316.03 359.52H1325.23M1325.51 346.26V358.56M1320.91 346.26H1330.11M1320.91 358.56H1330.11M1330.40 345.22V357.61M1325.80 345.22H1335.00M1325.80 357.61H1335.00"/></g>
<text x="1037.96" y="0" transform="translate(0 46.40) scale(1 1.045)" font-size="54.0" fill="#000">AIC</text>
<text x="749.08" y="0" transform="translate(0 429.80) scale(1 1.02)" font-size="54.0" fill="#262626">0.6</text>
<text x="748.79" y="0" transform="translate(0 332.30) scale(1 1.02)" font-size="54.0" fill="#262626">0.8</text>
<path transform="translate(798.10 235.00)" fill="#262626" d="M10.6 0V-29.6C8.2 -27.2 4.2 -24.6 0 -23.2V-29.4C2.6 -30.5 5.6 -32.6 8.2 -35C9.8 -36.5 11 -37.8 11.6 -38.9H17.4V0Z"/>
<path transform="translate(753.20 137.30)" fill="#262626" d="M10.6 0V-29.6C8.2 -27.2 4.2 -24.6 0 -23.2V-29.4C2.6 -30.5 5.6 -32.6 8.2 -35C9.8 -36.5 11 -37.8 11.6 -38.9H17.4V0Z"/>
<text x="779.33" y="0" transform="translate(0 137.30) scale(1 1.02)" font-size="54.0" fill="#262626">.2</text>
<path transform="translate(860.50 479.40)" fill="#262626" d="M10.6 0V-29.6C8.2 -27.2 4.2 -24.6 0 -23.2V-29.4C2.6 -30.5 5.6 -32.6 8.2 -35C9.8 -36.5 11 -37.8 11.6 -38.9H17.4V0Z"/>
<text x="929.86" y="0" transform="translate(0 479.40) scale(1 1.02)" font-size="54.0" fill="#262626">2</text>
<text x="1003.49" y="0" transform="translate(0 479.40) scale(1 1.02)" font-size="54.0" fill="#262626">4</text>
<text x="1078.26" y="0" transform="translate(0 479.40) scale(1 1.02)" font-size="54.0" fill="#262626">8</text>
<path transform="translate(1140.73 479.40)" fill="#262626" d="M10.6 0V-29.6C8.2 -27.2 4.2 -24.6 0 -23.2V-29.4C2.6 -30.5 5.6 -32.6 8.2 -35C9.8 -36.5 11 -37.8 11.6 -38.9H17.4V0Z"/>
<text x="1167.05" y="0" transform="translate(0 479.40) scale(1 1.02)" font-size="54.0" fill="#262626">6</text>
<text x="1209.90" y="0" transform="translate(0 479.40) scale(1 1.02)" font-size="54.0" fill="#262626">32</text>
<text x="1283.22" y="0" transform="translate(0 479.40) scale(1 1.02)" font-size="54.0" fill="#262626">64</text>
<text x="981.00" y="0" transform="translate(0 551.80) scale(1 1.02)" font-size="54.2" fill="#262626">Scale[s]</text>
<text x="0" y="0" transform="translate(727.40 311.91) rotate(-90) scale(1 1.0)" font-size="54.25" fill="#262626">Slope</text>
<g clip-path="url(#cC)"><path d="M155.6 962.8L644 621" stroke="#000" stroke-width="2.1" fill="none"/></g>
<g fill="#0072BD" stroke="#0a5c96" stroke-width="0.8"><circle cx="573.2" cy="691.6" r="3.3"/><circle cx="619.9" cy="695.7" r="3.3"/><circle cx="520.7" cy="705.9" r="3.3"/><circle cx="592.5" cy="719.2" r="3.3"/><circle cx="600.5" cy="728.4" r="3.3"/><circle cx="470.4" cy="742.4" r="3.3"/><circle cx="488.8" cy="740.0" r="3.3"/><circle cx="519.7" cy="741.2" r="3.3"/><circle cx="339.3" cy="756.9" r="3.3"/><circle cx="393.8" cy="759.3" r="3.3"/><circle cx="419.9" cy="764.6" r="3.3"/><circle cx="440.4" cy="754.0" r="3.3"/><circle cx="464.1" cy="751.6" r="3.3"/><circle cx="461.7" cy="759.3" r="3.3"/><circle cx="471.9" cy="765.8" r="3.3"/><circle cx="482.5" cy="768.5" r="3.3"/><circle cx="483.5" cy="776.2" r="3.3"/><circle cx="517.3" cy="755.4" r="3.3"/><circle cx="545.9" cy="750.4" r="3.3"/><circle cx="638.2" cy="750.4" r="3.3"/><circle cx="616.0" cy="758.1" r="3.3"/><circle cx="587.4" cy="771.2" r="3.3"/><circle cx="558.9" cy="778.7" r="3.3"/><circle cx="552.1" cy="785.4" r="3.3"/><circle cx="574.4" cy="785.4" r="3.3"/><circle cx="514.7" cy="784.0" r="3.3"/><circle cx="530.4" cy="784.0" r="3.3"/><circle cx="498.9" cy="790.8" r="3.3"/><circle cx="536.7" cy="793.2" r="3.3"/><circle cx="526.0" cy="796.1" r="3.3"/><circle cx="422.5" cy="794.1" r="3.3"/><circle cx="448.2" cy="793.2" r="3.3"/><circle cx="449.6" cy="794.6" r="3.3"/><circle cx="502.8" cy="800.9" r="3.3"/><circle cx="513.5" cy="802.4" r="3.3"/><circle cx="464.1" cy="800.9" r="3.3"/><circle cx="469.4" cy="800.9" r="3.3"/><circle cx="604.4" cy="797.0" r="3.3"/><circle cx="411.9" cy="804.8" r="3.3"/><circle cx="406.6" cy="808.6" r="3.3"/><circle cx="430.0" cy="803.8" r="3.3"/><circle cx="445.7" cy="808.9" r="3.3"/><circle cx="502.8" cy="808.6" r="3.3"/><circle cx="556.0" cy="804.8" r="3.3"/><circle cx="506.7" cy="816.6" r="3.3"/><circle cx="610.9" cy="815.2" r="3.3"/><circle cx="352.4" cy="824.4" r="3.3"/><circle cx="395.4" cy="821.5" r="3.3"/><circle cx="386.0" cy="828.0" r="3.3"/><circle cx="396.4" cy="832.3" r="3.3"/><circle cx="410.0" cy="833.3" r="3.3"/><circle cx="412.9" cy="833.3" r="3.3"/><circle cx="439.0" cy="825.6" r="3.3"/><circle cx="444.8" cy="828.0" r="3.3"/><circle cx="439.0" cy="830.4" r="3.3"/><circle cx="525.1" cy="821.7" r="3.3"/><circle cx="510.6" cy="828.0" r="3.3"/><circle cx="560.1" cy="826.8" r="3.3"/><circle cx="366.4" cy="837.4" r="3.3"/><circle cx="463.6" cy="836.0" r="3.3"/><circle cx="480.1" cy="833.6" r="3.3"/><circle cx="485.4" cy="834.8" r="3.3"/><circle cx="473.8" cy="838.6" r="3.3"/><circle cx="474.8" cy="841.5" r="3.3"/><circle cx="428.8" cy="841.0" r="3.3"/><circle cx="437.5" cy="844.9" r="3.3"/><circle cx="442.4" cy="846.4" r="3.3"/><circle cx="480.6" cy="846.4" r="3.3"/><circle cx="491.2" cy="844.0" r="3.3"/><circle cx="365.5" cy="854.1" r="3.3"/><circle cx="398.8" cy="851.7" r="3.3"/><circle cx="409.5" cy="852.9" r="3.3"/><circle cx="421.1" cy="854.1" r="3.3"/><circle cx="409.5" cy="858.9" r="3.3"/><circle cx="511.0" cy="850.2" r="3.3"/><circle cx="539.3" cy="851.7" r="3.3"/><circle cx="552.1" cy="847.6" r="3.3"/><circle cx="640.6" cy="851.7" r="3.3"/><circle cx="380.9" cy="864.7" r="3.3"/><circle cx="465.1" cy="859.4" r="3.3"/><circle cx="471.4" cy="862.8" r="3.3"/><circle cx="477.2" cy="866.9" r="3.3"/><circle cx="505.2" cy="861.8" r="3.3"/><circle cx="617.4" cy="865.7" r="3.3"/><circle cx="401.7" cy="868.1" r="3.3"/><circle cx="408.0" cy="868.1" r="3.3"/><circle cx="431.2" cy="866.0" r="3.3"/><circle cx="442.4" cy="868.1" r="3.3"/><circle cx="448.6" cy="865.7" r="3.3"/><circle cx="403.7" cy="872.2" r="3.3"/><circle cx="405.1" cy="876.4" r="3.3"/><circle cx="423.5" cy="872.5" r="3.3"/><circle cx="469.9" cy="872.5" r="3.3"/><circle cx="471.4" cy="871.5" r="3.3"/><circle cx="410.9" cy="883.9" r="3.3"/><circle cx="416.7" cy="887.5" r="3.3"/><circle cx="419.6" cy="890.4" r="3.3"/><circle cx="435.6" cy="884.1" r="3.3"/><circle cx="451.1" cy="885.1" r="3.3"/><circle cx="455.4" cy="887.5" r="3.3"/><circle cx="459.8" cy="888.0" r="3.3"/><circle cx="495.1" cy="885.5" r="3.3"/><circle cx="407.1" cy="890.9" r="3.3"/><circle cx="403.7" cy="892.8" r="3.3"/><circle cx="427.8" cy="894.2" r="3.3"/><circle cx="444.3" cy="895.7" r="3.3"/><circle cx="509.6" cy="893.3" r="3.3"/><circle cx="358.7" cy="895.7" r="3.3"/><circle cx="408.0" cy="899.6" r="3.3"/><circle cx="421.1" cy="903.7" r="3.3"/><circle cx="397.9" cy="903.7" r="3.3"/><circle cx="395.0" cy="907.3" r="3.3"/><circle cx="454.9" cy="904.9" r="3.3"/><circle cx="547.3" cy="900.8" r="3.3"/><circle cx="543.0" cy="906.1" r="3.3"/><circle cx="583.6" cy="898.1" r="3.3"/><circle cx="586.0" cy="903.4" r="3.3"/><circle cx="357.2" cy="911.4" r="3.3"/><circle cx="380.9" cy="908.5" r="3.3"/><circle cx="471.4" cy="910.2" r="3.3"/><circle cx="556.0" cy="913.8" r="3.3"/><circle cx="405.1" cy="916.5" r="3.3"/><circle cx="421.1" cy="917.9" r="3.3"/><circle cx="435.6" cy="920.6" r="3.3"/><circle cx="456.4" cy="930.8" r="3.3"/></g>
<rect x="155.6" y="621" width="488.40" height="341.80" fill="none" stroke="#262626" stroke-width="2.2"/>
<path d="M562.60 962.8v-5.2M562.60 621v5.2M155.6 677.97h5.2M644 677.97h-5.2" stroke="#262626" stroke-width="2.2" fill="none"/>
<text x="62.84" y="0" transform="translate(0 985.20) scale(1 1.02)" font-size="54.0" fill="#262626">0.5</text>
<path transform="translate(111.30 700.60)" fill="#262626" d="M10.6 0V-29.6C8.2 -27.2 4.2 -24.6 0 -23.2V-29.4C2.6 -30.5 5.6 -32.6 8.2 -35C9.8 -36.5 11 -37.8 11.6 -38.9H17.4V0Z"/>
<text x="118.15" y="0" transform="translate(0 1034.60) scale(1 1.02)" font-size="54.0" fill="#262626">0.5</text>
<path transform="translate(550.60 1034.20)" fill="#262626" d="M10.6 0V-29.6C8.2 -27.2 4.2 -24.6 0 -23.2V-29.4C2.6 -30.5 5.6 -32.6 8.2 -35C9.8 -36.5 11 -37.8 11.6 -38.9H17.4V0Z"/>
<text x="235.95" y="0" transform="translate(0 1106.90) scale(1 1.02)" font-size="54.65" fill="#262626">First interval</text>
<text x="0" y="0" transform="translate(40.80 994.54) rotate(-90) scale(1 1.0)" font-size="54.65" fill="#262626">Second interval</text>
<g clip-path="url(#cD)"><path d="M842 962.8L1330.4 621" stroke="#000" stroke-width="2.1" fill="none"/></g>
<g fill="#0072BD" stroke="#0a5c96" stroke-width="0.8"><circle cx="1259.6" cy="691.6" r="3.3"/><circle cx="1207.6" cy="705.9" r="3.3"/><circle cx="1287.1" cy="728.4" r="3.3"/><circle cx="1156.8" cy="742.4" r="3.3"/><circle cx="1174.9" cy="740.0" r="3.3"/><circle cx="1206.4" cy="741.2" r="3.3"/><circle cx="1025.5" cy="756.9" r="3.3"/><circle cx="1080.1" cy="759.3" r="3.3"/><circle cx="1106.2" cy="764.6" r="3.3"/><circle cx="1127.0" cy="754.0" r="3.3"/><circle cx="1147.8" cy="759.3" r="3.3"/><circle cx="1158.0" cy="765.8" r="3.3"/><circle cx="1168.6" cy="768.5" r="3.3"/><circle cx="1203.5" cy="755.4" r="3.3"/><circle cx="1232.2" cy="750.4" r="3.3"/><circle cx="1324.4" cy="750.4" r="3.3"/><circle cx="1274.1" cy="771.2" r="3.3"/><circle cx="1245.0" cy="778.7" r="3.3"/><circle cx="1238.5" cy="785.4" r="3.3"/><circle cx="1201.0" cy="784.0" r="3.3"/><circle cx="1216.5" cy="784.0" r="3.3"/><circle cx="1212.6" cy="796.1" r="3.3"/><circle cx="1222.8" cy="793.2" r="3.3"/><circle cx="1108.7" cy="794.1" r="3.3"/><circle cx="1134.8" cy="793.2" r="3.3"/><circle cx="1135.7" cy="794.6" r="3.3"/><circle cx="1149.8" cy="800.9" r="3.3"/><circle cx="1155.6" cy="800.9" r="3.3"/><circle cx="1188.9" cy="800.9" r="3.3"/><circle cx="1199.8" cy="802.4" r="3.3"/><circle cx="1188.9" cy="808.6" r="3.3"/><circle cx="1193.3" cy="816.6" r="3.3"/><circle cx="1290.5" cy="797.0" r="3.3"/><circle cx="1098.5" cy="804.8" r="3.3"/><circle cx="1132.4" cy="808.9" r="3.3"/><circle cx="1297.3" cy="815.2" r="3.3"/><circle cx="1038.5" cy="824.4" r="3.3"/><circle cx="1081.6" cy="821.5" r="3.3"/><circle cx="1072.4" cy="828.0" r="3.3"/><circle cx="1082.5" cy="832.3" r="3.3"/><circle cx="1097.1" cy="833.3" r="3.3"/><circle cx="1099.0" cy="833.3" r="3.3"/><circle cx="1125.6" cy="830.9" r="3.3"/><circle cx="1052.6" cy="837.4" r="3.3"/><circle cx="1160.4" cy="838.6" r="3.3"/><circle cx="1114.9" cy="841.0" r="3.3"/><circle cx="1124.1" cy="844.9" r="3.3"/><circle cx="1128.5" cy="846.4" r="3.3"/><circle cx="1167.2" cy="846.4" r="3.3"/><circle cx="1085.4" cy="851.7" r="3.3"/><circle cx="1095.6" cy="852.9" r="3.3"/><circle cx="1107.2" cy="854.1" r="3.3"/><circle cx="1095.6" cy="858.9" r="3.3"/><circle cx="1225.7" cy="851.7" r="3.3"/><circle cx="1327.5" cy="851.7" r="3.3"/><circle cx="1191.8" cy="861.8" r="3.3"/><circle cx="1158.0" cy="863.3" r="3.3"/><circle cx="1163.3" cy="866.9" r="3.3"/><circle cx="1158.0" cy="872.5" r="3.3"/><circle cx="1094.2" cy="868.1" r="3.3"/><circle cx="1117.8" cy="866.0" r="3.3"/><circle cx="1128.0" cy="868.1" r="3.3"/><circle cx="1303.6" cy="865.7" r="3.3"/><circle cx="1121.7" cy="883.9" r="3.3"/><circle cx="1137.2" cy="884.1" r="3.3"/><circle cx="1146.4" cy="888.0" r="3.3"/><circle cx="1090.8" cy="893.3" r="3.3"/><circle cx="1113.5" cy="894.2" r="3.3"/><circle cx="1130.9" cy="895.7" r="3.3"/><circle cx="1084.0" cy="903.7" r="3.3"/><circle cx="1081.6" cy="907.3" r="3.3"/><circle cx="1043.9" cy="911.4" r="3.3"/><circle cx="1067.1" cy="908.5" r="3.3"/><circle cx="1092.2" cy="916.5" r="3.3"/><circle cx="1121.7" cy="920.6" r="3.3"/><circle cx="1229.6" cy="906.1" r="3.3"/><circle cx="1272.6" cy="903.4" r="3.3"/></g>
<rect x="842" y="621" width="488.40" height="341.80" fill="none" stroke="#262626" stroke-width="2.2"/>
<path d="M1249.00 962.8v-5.2M1249.00 621v5.2M842 677.97h5.2M1330.4 677.97h-5.2" stroke="#262626" stroke-width="2.2" fill="none"/>
<text x="749.14" y="0" transform="translate(0 985.20) scale(1 1.02)" font-size="54.0" fill="#262626">0.5</text>
<path transform="translate(797.60 700.60)" fill="#262626" d="M10.6 0V-29.6C8.2 -27.2 4.2 -24.6 0 -23.2V-29.4C2.6 -30.5 5.6 -32.6 8.2 -35C9.8 -36.5 11 -37.8 11.6 -38.9H17.4V0Z"/>
<text x="804.45" y="0" transform="translate(0 1034.60) scale(1 1.02)" font-size="54.0" fill="#262626">0.5</text>
<path transform="translate(1236.90 1034.20)" fill="#262626" d="M10.6 0V-29.6C8.2 -27.2 4.2 -24.6 0 -23.2V-29.4C2.6 -30.5 5.6 -32.6 8.2 -35C9.8 -36.5 11 -37.8 11.6 -38.9H17.4V0Z"/>
<text x="922.25" y="0" transform="translate(0 1106.90) scale(1 1.02)" font-size="54.65" fill="#262626">First interval</text>
<text x="0" y="0" transform="translate(727.10 994.54) rotate(-90) scale(1 1.0)" font-size="54.65" fill="#262626">Second interval</text>
</svg></body></html>
